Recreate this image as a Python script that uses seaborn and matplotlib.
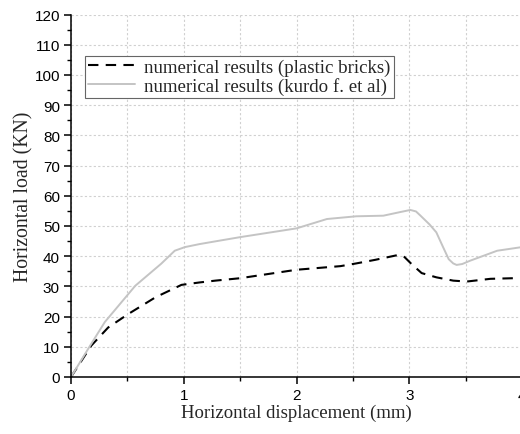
import numpy as np
import pandas as pd
import seaborn as sns
import matplotlib.pyplot as plt
from matplotlib.ticker import MultipleLocator

# Load–displacement curves
disp_plastic = [0.0, 0.18, 0.33, 0.51, 0.75, 0.98, 1.14, 1.28, 1.5, 2.0, 2.39, 2.53,
                2.7, 2.89, 2.95, 3.02, 3.11, 3.24, 3.39, 3.51, 3.72, 3.92, 4.0]
load_plastic = [0.0, 10.4, 16.4, 20.9, 26.4, 30.5, 31.3, 31.9, 32.7, 35.5, 36.7, 37.6,
                38.8, 40.3, 40.0, 37.4, 34.4, 33.0, 31.9, 31.6, 32.5, 32.7, 32.8]

disp_kurdo = [0.0, 0.17, 0.30, 0.57, 0.8, 0.92, 1.01, 1.14, 1.28, 1.5, 2.0, 2.27, 2.53,
              2.77, 2.92, 3.01, 3.06, 3.1, 3.18, 3.24, 3.3, 3.35, 3.39, 3.42, 3.47, 3.54,
              3.78, 3.98, 4.0]
load_kurdo = [0.0, 10.4, 18.2, 30.2, 37.5, 41.8, 43.0, 44.0, 44.9, 46.3, 49.2, 52.3, 53.2,
              53.4, 54.6, 55.3, 54.8, 53.4, 50.5, 47.9, 43.0, 39.0, 37.6, 37.1, 37.4, 38.5,
              41.8, 42.9, 43.0]

label_plastic = "numerical results (plastic bricks)"
label_kurdo = "numerical results (kurdo f. et al)"

df = pd.concat([
    pd.DataFrame({"disp": disp_plastic, "load": load_plastic, "series": label_plastic}),
    pd.DataFrame({"disp": disp_kurdo, "load": load_kurdo, "series": label_kurdo}),
])

sns.set_style("ticks")
plt.rcParams["font.family"] = ["Liberation Sans", "DejaVu Sans"]

fig = plt.figure(figsize=(5.2, 4.35), dpi=100)
ax = fig.add_axes([71 / 520, 57 / 435, 451 / 520, 362.5 / 435])

sns.lineplot(data=df[df.series == label_plastic], x="disp", y="load", ax=ax,
             color="black", lw=1.5, label=label_plastic, sort=False)
ax.lines[-1].set_dashes([5, 3.5])
sns.lineplot(data=df[df.series == label_kurdo], x="disp", y="load", ax=ax,
             color="#c4c4c4", lw=1.4, label=label_kurdo, sort=False)
for ln in ax.lines:
    ln.set_solid_joinstyle("round")
    ln.set_dash_joinstyle("round")

ax.set_xlim(0, 4)
ax.set_ylim(0, 120)
ax.xaxis.set_major_locator(MultipleLocator(1))
ax.xaxis.set_minor_locator(MultipleLocator(0.5))
ax.yaxis.set_major_locator(MultipleLocator(10))
ax.yaxis.set_minor_locator(MultipleLocator(5))

ax.grid(True, which="major", axis="both", color="#d0d0d0", ls=(0, (2, 2)), lw=0.8)
ax.grid(True, which="minor", axis="x", color="#d0d0d0", ls=(0, (2, 2)), lw=0.8)
ax.set_axisbelow(True)

for s in ("top", "right"):
    ax.spines[s].set_visible(False)
for s in ("left", "bottom"):
    ax.spines[s].set_color("black")
    ax.spines[s].set_linewidth(1.1)

ax.tick_params(which="major", direction="out", length=5, width=1.1,
               labelsize=11, colors="black", pad=3)
ax.tick_params(which="minor", direction="out", length=3, width=1.0, colors="black")

serif = ["Liberation Serif", "DejaVu Serif"]
ax.set_xlabel("Horizontal displacement (mm)", fontsize=13.5, family=serif, labelpad=1)
ax.set_ylabel("Horizontal load (KN)", fontsize=14.2, family=serif, labelpad=1)

leg = ax.legend(loc="upper left", bbox_to_anchor=(0.031, 0.886),
                prop={"family": serif, "size": 13.6}, frameon=True, fancybox=False,
                framealpha=1, edgecolor="#666666", handlelength=2.5,
                borderpad=0.15, labelspacing=0.05, handletextpad=0.5,
                borderaxespad=0)
leg.get_frame().set_linewidth(0.8)

fig.savefig("out.png", dpi=100)
